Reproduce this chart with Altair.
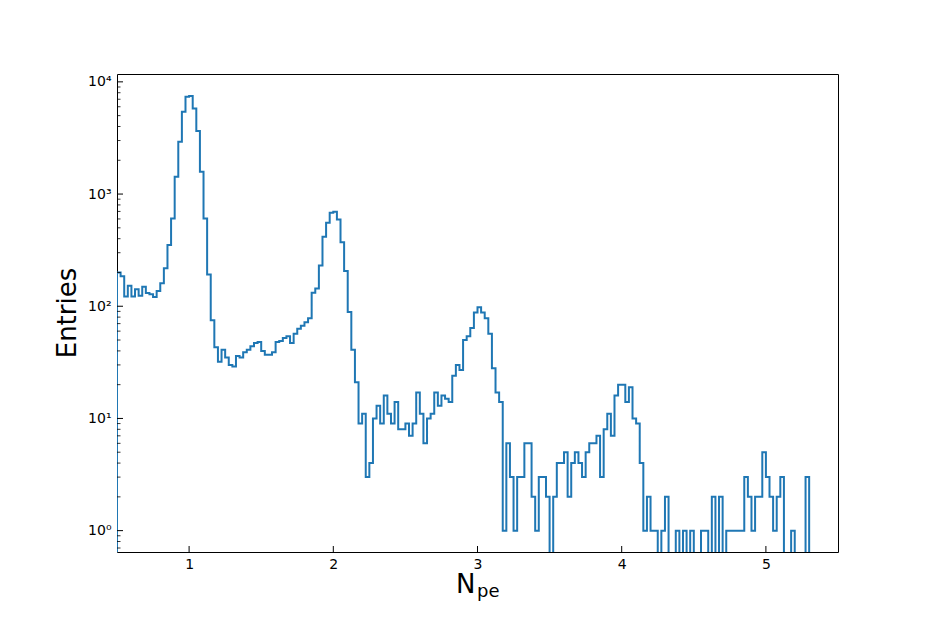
import altair as alt
import numpy as np
import pandas as pd

# histogram: 200 bins of width 0.025 from 0.5 to 5.5
bin_start = 0.5
bin_width = 0.025
counts = [
    200, 185, 122, 152, 122, 142, 124, 149, 131, 128,
    121, 137, 160, 218, 351, 607, 1425, 2920, 5410, 7350,
    7500, 5800, 3640, 1578, 607, 192, 75, 43, 32, 41,
    35, 30, 29, 36, 35, 39, 41, 44, 47, 48,
    40, 37, 37, 39, 48, 49, 52, 54, 47, 57,
    63, 67, 72, 78, 132, 144, 231, 416, 554, 681,
    695, 594, 371, 206, 89, 41, 21, 9, 11, 3,
    4, 10, 13, 9, 16, 11, 9, 14, 8, 8,
    9, 7, 9, 17, 11, 6, 10, 11, 17, 13,
    16, 15, 14, 24, 30, 27, 50, 54, 64, 88,
    98, 88, 78, 57, 28, 17, 14, 1, 6, 3,
    1, 3, 3, 6, 6, 2, 1, 3, 3, 2,
    0, 2, 4, 4, 5, 2, 4, 5, 4, 3,
    5, 6, 6, 7, 3, 8, 11, 7, 16, 20,
    20, 14, 19, 10, 9, 4, 1, 2, 1, 1,
    0, 1, 2, 0, 0, 1, 0, 1, 0, 1,
    0, 0, 1, 1, 0, 2, 0, 2, 0, 1,
    1, 1, 1, 1, 3, 2, 1, 2, 2, 5,
    3, 2, 1, 2, 3, 0, 0, 1, 0, 0,
    0, 3, 0, 0, 0, 0, 0, 0, 0, 0,
]
x_ticks = [1, 2, 3, 4, 5]
y_major = [1, 10, 100, 1000, 10000]
y_minor = [m * 10 ** e for e in range(-1, 4) for m in range(2, 10)]
y_minor = [v for v in y_minor if 0.645 < v < 11750]

x_domain = [0.5, 5.5]
y_domain = [0.645, 11750]
floor = 0.05

n = len(counts)
edges = [bin_start + bin_width * i for i in range(n + 1)]
xs = [bin_start] + edges[:n] + [edges[n]]
ys = [floor] + [c if c > 0 else floor for c in counts] + [counts[-1] if counts[-1] > 0 else floor]
hist = pd.DataFrame({"x": xs, "y": ys, "i": list(range(len(xs)))})

W, H = 721, 478
FONT = "DejaVu Sans"

xscale = alt.Scale(domain=x_domain, nice=False, zero=False)
yscale = alt.Scale(type="log", domain=y_domain, nice=False, zero=False)

xaxis = alt.Axis(values=x_ticks, tickSize=0, labelPadding=5, domain=False,
                 labelFont=FONT, labelFontSize=14, labelColor="black",
                 grid=False, title=None, format="d")
yaxis = alt.Axis(values=y_major, tickSize=0, labelPadding=6, domain=False,
                 labelFont=FONT, labelFontSize=14, labelColor="black",
                 grid=False, title=None,
                 labelExpr="'10' + ['⁰','¹','²','³','⁴'][round(log(datum.value)/LN10)]")

line = alt.Chart(hist).mark_line(
    interpolate="step-after", color="#1f77b4", strokeWidth=2, clip=True
).encode(
    x=alt.X("x:Q", scale=xscale, axis=xaxis),
    y=alt.Y("y:Q", scale=yscale, axis=yaxis),
    order=alt.Order("i:Q"),
)

maj = alt.Chart(pd.DataFrame({"v": y_major})).mark_rule(color="black", strokeWidth=1).encode(
    y=alt.Y("v:Q", scale=yscale, axis=yaxis), x=alt.value(0), x2=alt.value(6))
mnr = alt.Chart(pd.DataFrame({"v": y_minor})).mark_rule(color="black", strokeWidth=0.8).encode(
    y=alt.Y("v:Q", scale=yscale, axis=yaxis), x=alt.value(0), x2=alt.value(3.5))
xt = alt.Chart(pd.DataFrame({"v": x_ticks})).mark_rule(color="black", strokeWidth=1).encode(
    x=alt.X("v:Q", scale=xscale, axis=xaxis), y=alt.value(H), y2=alt.value(H - 6))

one = pd.DataFrame({"a": [0]})
ylab = alt.Chart(one).mark_text(angle=270, font=FONT, fontSize=26, color="black",
                                align="center", baseline="middle").encode(
    x=alt.value(-49), y=alt.value(239), text=alt.value("Entries"))
xlab_n = alt.Chart(one).mark_text(font=FONT, fontSize=26, color="black",
                                  align="left", baseline="alphabetic").encode(
    x=alt.value(339), y=alt.value(519), text=alt.value("N"))
xlab_s = alt.Chart(one).mark_text(font=FONT, fontSize=18, color="black",
                                  align="left", baseline="alphabetic").encode(
    x=alt.value(360), y=alt.value(523), text=alt.value("pe"))

chart = alt.layer(line, maj, mnr, xt, ylab, xlab_n, xlab_s).properties(
    width=W, height=H,
    padding={"left": 109, "top": 66, "right": 80, "bottom": 55},
    autosize=alt.AutoSizeParams(type="none"),
    background="white",
).configure_view(stroke="black", strokeWidth=1)

chart.save("out.html", embed_options={"renderer": "svg", "actions": False})
